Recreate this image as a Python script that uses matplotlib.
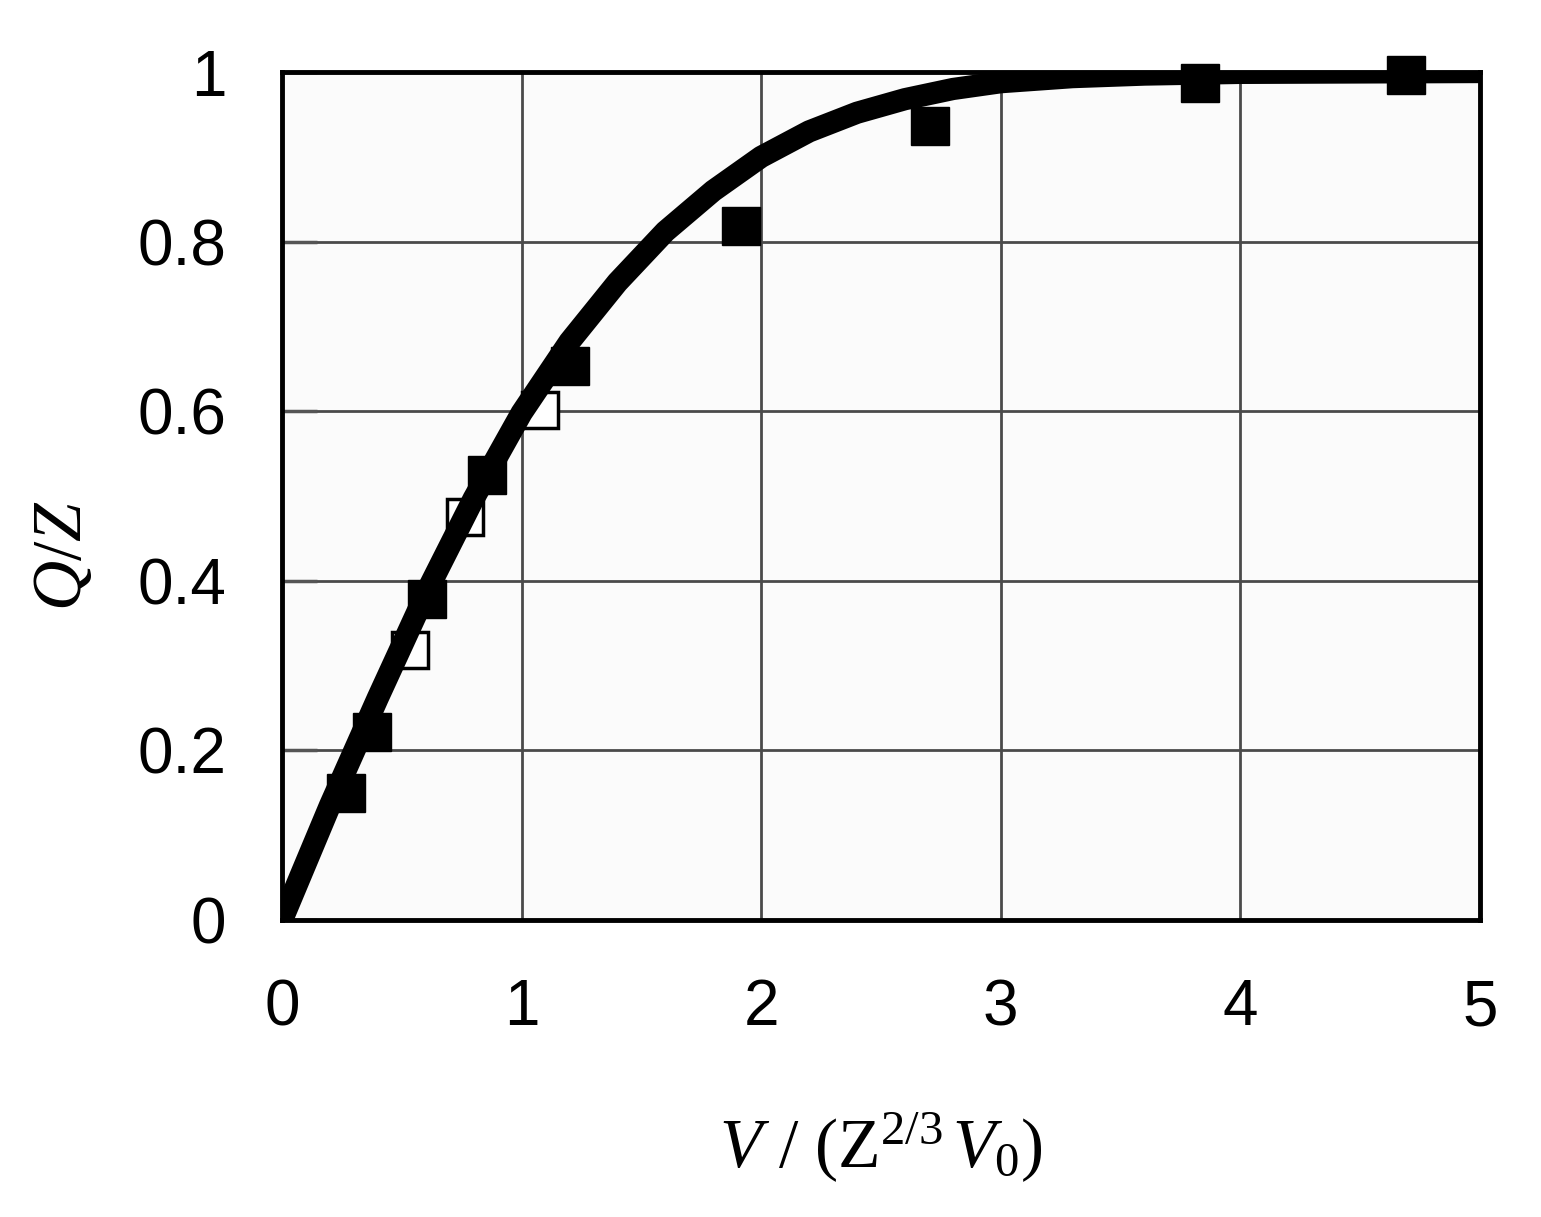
import matplotlib.pyplot as plt

# fitted curve
curve_x = [0, 0.2, 0.4, 0.6, 0.8, 1.0, 1.2, 1.4, 1.6, 1.8, 2.0, 2.2, 2.4, 2.6, 2.8,
           3.0, 3.3, 3.6, 4.0, 5.0]
curve_y = [0, 0.135, 0.262, 0.385, 0.497, 0.598, 0.682, 0.752, 0.812, 0.860, 0.900,
           0.930, 0.952, 0.968, 0.980, 0.988, 0.994, 0.997, 0.999, 1.0]

# measured points (filled squares)
filled_x = [0.267, 0.376, 0.605, 0.856, 1.202, 1.916, 2.705, 3.831, 4.691]
filled_y = [0.150, 0.222, 0.379, 0.525, 0.653, 0.818, 0.936, 0.987, 0.996]

# measured points (open squares)
open_x = [0.534, 0.764, 1.077]
open_y = [0.318, 0.475, 0.601]

xticks = [0, 1, 2, 3, 4, 5]
yticks = [0, 0.2, 0.4, 0.6, 0.8, 1.0]
ytick_labels = ['0', '0.2', '0.4', '0.6', '0.8', '1']

plt.rcParams['font.family'] = ['Liberation Sans', 'DejaVu Sans']
plt.rcParams['mathtext.fontset'] = 'custom'
plt.rcParams['mathtext.rm'] = 'Liberation Serif'
plt.rcParams['mathtext.it'] = 'Liberation Serif:italic'

fig = plt.figure(figsize=(15.41, 12.17), dpi=100)
ax = fig.add_axes([0.183, 0.244, 0.7774, 0.6968])
ax.set_facecolor('#fbfbfb')

ax.plot(open_x, open_y, 's', ms=26, mfc='white', mec='black', mew=2.5, zorder=3)
ax.plot(filled_x, filled_y, 's', ms=28, mfc='black', mec='black', mew=1, zorder=3,
        clip_on=False)
ax.plot(curve_x, curve_y, color='black', lw=16, solid_capstyle='butt',
        solid_joinstyle='round', zorder=4)

ax.set_xlim(0, 5)
ax.set_ylim(0, 1)
ax.set_xticks(xticks)
ax.set_xticklabels([str(t) for t in xticks])
ax.set_yticks(yticks)
ax.set_yticklabels(ytick_labels)
ax.grid(True, color='#4a4a4a', lw=2)
ax.set_axisbelow(True)

for s in ax.spines.values():
    s.set_linewidth(3.5)
    s.set_color('black')
    s.set_zorder(5)

ax.tick_params(axis='y', direction='in', length=25, width=2.5, color='#555555',
               labelsize=46, pad=40)
ax.tick_params(axis='x', direction='in', length=0, labelsize=46, pad=42)

ax.text(-0.183, 0.43, r'$Q/Z$', transform=ax.transAxes, rotation=90,
        rotation_mode='anchor', ha='center', va='center', fontsize=50)
ax.text(0.5, -0.292, r'$V\ /\ (\mathrm{Z}^{2/3}\,V_0)$', transform=ax.transAxes,
        ha='center', va='baseline', fontsize=50)

fig.savefig('out.png', dpi=100)
